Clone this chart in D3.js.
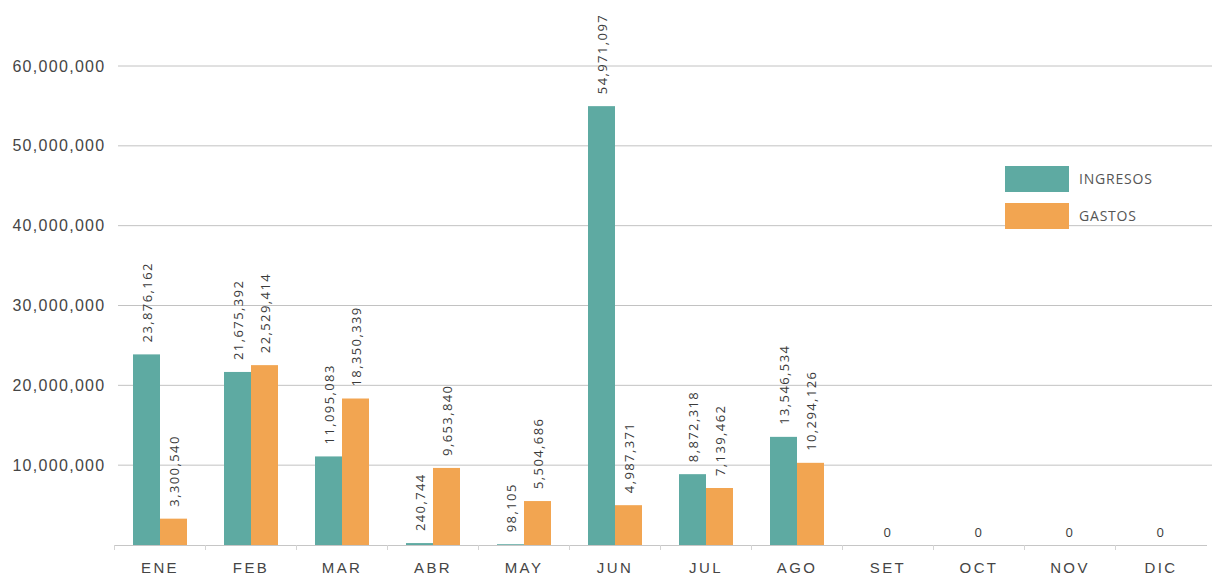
<!DOCTYPE html>
<html>
<head>
<meta charset="utf-8">
<script src="https://cdn.jsdelivr.net/npm/d3@7"></script>
<style>
  body { margin: 0; background: #fff; }
  svg { display: block; font-family: "Open Sans", sans-serif; }
</style>
</head>
<body>
<svg id="chart" width="1212" height="583"></svg>
<script>
// data
const months = ["ENE", "FEB", "MAR", "ABR", "MAY", "JUN", "JUL", "AGO", "SET", "OCT", "NOV", "DIC"];
const ingresos = [23876162, 21675392, 11095083, 240744, 98105, 54971097, 8872318, 13546534, 0, 0, 0, 0];
const gastos = [3300540, 22529414, 18350339, 9653840, 5504686, 4987371, 7139462, 10294126, 0, 0, 0, 0];
const seriesNames = ["INGRESOS", "GASTOS"];
const yTicks = [10000000, 20000000, 30000000, 40000000, 50000000, 60000000];

const colors = { INGRESOS: "#5eaaa2", GASTOS: "#f2a551" };

const svg = d3.select("#chart");
const plotLeft = 114.5, plotRight = 1206.5, plotTop = 66, plotBottom = 545;

let rows = months.map((m, i) => ({ month: m, INGRESOS: ingresos[i], GASTOS: gastos[i] }));

let x = d3.scaleBand().domain(months).range([plotLeft, plotRight]);
let xSub = d3.scaleBand().domain(seriesNames)
  .range([x.bandwidth() / 2 - 27, x.bandwidth() / 2 + 27]);
let y = d3.scaleLinear().domain([0, 60000000]).range([plotBottom, plotTop]);

// gridlines
svg.append("g")
  .selectAll("line")
  .data(yTicks)
  .join("line")
    .attr("x1", 118).attr("x2", 1212)
    .attr("y1", d => y(d)).attr("y2", d => y(d))
    .attr("stroke", "#c2c2c2").attr("stroke-width", 1);

// y axis labels
let yAxis = svg.append("g")
  .attr("transform", `translate(${plotLeft - 6},0)`)
  .call(d3.axisLeft(y).tickValues(yTicks).tickFormat(d3.format(",")).tickSize(0));
yAxis.select(".domain").remove();
yAxis.selectAll("text")
  .attr("fill", "#454545")
  .style("font-size", "16px")
  .style("letter-spacing", "1.3px");

// baseline + x axis
let xAxis = svg.append("g")
  .attr("transform", `translate(0,${plotBottom})`)
  .call(d3.axisBottom(x).tickSize(0).tickPadding(17));
xAxis.select(".domain").attr("stroke", "#c6c6c6");
xAxis.selectAll("text")
  .attr("fill", "#454545")
  .style("font-size", "15px")
  .style("letter-spacing", "2.4px");
// small separators between months
xAxis.selectAll("line.sep")
  .data(months)
  .join("line")
    .attr("class", "sep")
    .attr("x1", d => x(d)).attr("x2", d => x(d))
    .attr("y1", 0).attr("y2", 5)
    .attr("stroke", "#d4d4d4");

// bars
let groups = svg.append("g")
  .selectAll("g")
  .data(rows)
  .join("g")
    .attr("transform", d => `translate(${x(d.month)},0)`);

groups.selectAll("rect")
  .data(d => seriesNames.map(s => ({ key: s, value: d[s] })))
  .join("rect")
    .attr("x", d => xSub(d.key))
    .attr("y", d => y(d.value))
    .attr("width", xSub.bandwidth())
    .attr("height", d => plotBottom - y(d.value))
    .attr("fill", d => colors[d.key]);

// value labels, rotated
groups.selectAll("text.val")
  .data(d => {
    let both0 = d.INGRESOS === 0 && d.GASTOS === 0;
    if (both0) return [{ key: "center", value: 0 }];
    return seriesNames.map(s => ({ key: s, value: d[s] }));
  })
  .join("text")
    .attr("class", "val")
    .attr("transform", d => {
      if (d.key === "center") return `translate(${x.bandwidth() / 2},${plotBottom - 8})`;
      let cx = xSub(d.key) + xSub.bandwidth() / 2 + 5;
      return `translate(${cx},${y(d.value) - 12}) rotate(-90)`;
    })
    .attr("text-anchor", d => d.key === "center" ? "middle" : "start")
    .attr("fill", "#3a3a3a")
    .style("font-size", "13px")
    .style("letter-spacing", "1.4px")
    .text(d => d3.format(",")(d.value));

// legend
let legend = svg.append("g").attr("transform", "translate(1005,166)");
seriesNames.forEach((s, i) => {
  legend.append("rect")
    .attr("x", 0).attr("y", i * 37)
    .attr("width", 64).attr("height", 26)
    .attr("fill", colors[s]);
  legend.append("text")
    .attr("x", 74).attr("y", i * 37 + 13)
    .attr("dy", "0.35em")
    .attr("fill", "#555")
    .style("font-size", "14px")
    .style("letter-spacing", "0.8px")
    .text(s);
});
</script>
</body>
</html>
